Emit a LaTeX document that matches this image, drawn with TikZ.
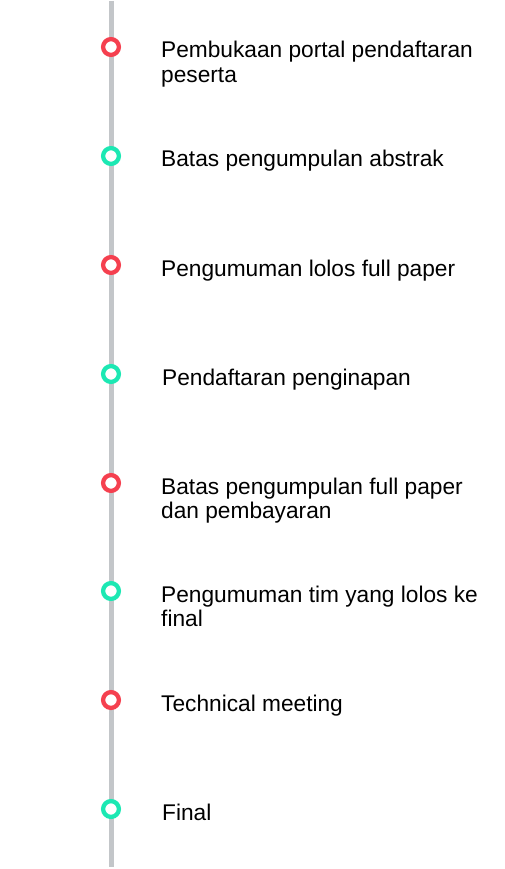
\documentclass[tikz,border=0pt]{standalone}
\usepackage{fontspec}
\setmainfont{Liberation Sans}
\usetikzlibrary{positioning}
\definecolor{rail}{HTML}{C3C6C9}
\definecolor{dotred}{HTML}{F5404F}
\definecolor{dotgreen}{HTML}{1CE8B3}
\newcommand{\eventlines}[1]{\begin{tabular}[t]{@{}l@{}}#1\end{tabular}}
\tikzset{
  dot/.style={circle, draw, fill=white, line width=4.3pt, inner sep=0pt, minimum size=15.8pt},
  red dot/.style={dot, draw=dotred},
  green dot/.style={dot, draw=dotgreen},
  event/.style={anchor=base west, inner sep=0pt, font=\fontsize{22.7pt}{24.5pt}\selectfont}
}
\begin{document}
\begin{tikzpicture}[x=1pt, y=-1pt]
\useasboundingbox (0,0) rectangle (504,869);
% rail %
\coordinate (top) at (111,1);
\coordinate (bottom) at (111,867);
\draw[rail, line width=5pt] (top) -- (bottom);
% dots %
\node[red dot] (d1) at (111,47) {};
\node[green dot] (d2) at (111,156) {};
\node[red dot] (d3) at (111,265) {};
\node[green dot] (d4) at (111,374) {};
\node[red dot] (d5) at (111,483) {};
\node[green dot] (d6) at (111,591) {};
\node[red dot] (d7) at (111,700) {};
\node[green dot] (d8) at (111,809) {};
% labels %
\node[event] (e1) at ([xshift=50pt, yshift=-11pt]d1.center) {\eventlines{Pembukaan portal pendaftaran\\peserta}};
\node[event] (e2) at ([xshift=50pt, yshift=-11pt]d2.center) {Batas pengumpulan abstrak};
\node[event] (e3) at ([xshift=50pt, yshift=-11pt]d3.center) {Pengumuman lolos full paper};
\node[event] (e4) at ([xshift=51pt, yshift=-11pt]d4.center) {Pendaftaran penginapan};
\node[event] (e5) at ([xshift=50pt, yshift=-11pt]d5.center) {\eventlines{Batas pengumpulan full paper\\dan pembayaran}};
\node[event] (e6) at ([xshift=50pt, yshift=-11pt]d6.center) {\eventlines{Pengumuman tim yang lolos ke\\final}};
\node[event] (e7) at ([xshift=50pt, yshift=-11pt]d7.center) {Technical meeting};
\node[event] (e8) at ([xshift=51pt, yshift=-11pt]d8.center) {Final};
\end{tikzpicture}
\end{document}
